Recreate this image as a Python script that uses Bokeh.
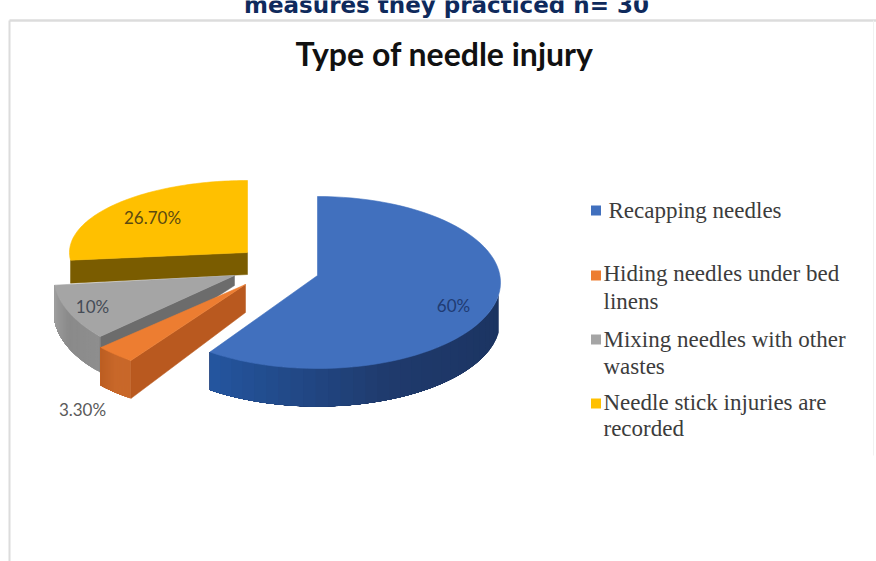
import numpy as np
from bokeh.plotting import figure
from bokeh.models import Range1d
from bokeh.core.properties import value
from bokeh.embed import file_html
from bokeh.resources import INLINE

# Pie data, clockwise from twelve o'clock
categories = ["Recapping needles", "Hiding needles under bed linens",
              "Mixing needles with other wastes", "Needle stick injuries are recorded"]
shares = [60, 3.3, 10, 26.7]
share_labels = ["60%", "3.30%", "10%", "26.70%"]
legend_lines = [["Recapping needles"],
                ["Hiding needles under bed", "linens"],
                ["Mixing needles with other", "wastes"],
                ["Needle stick injuries are", "recorded"]]
title = "Type of needle injury"
heading = "measures they practiced n= 30"

# Tilted-disc layout for each exploded slice
TOP = ["#4170be", "#ed7d31", "#a5a5a5", "#ffc000"]
RADIAL = ["#2c5aa0", "#b9591f", "#6c6c6c", "#7a5c00"]
OUTER_STOPS = [["#1b3360", "#1f3a6c", "#2456a0"],
               ["#c8682a", "#c8682a", "#bc5e22"],
               ["#8e8e8e", "#8a8a8a", "#a0a0a0"],
               ["#7a5c00", "#7a5c00", "#7a5c00"]]
LAYOUT = [
    dict(x=317, y=275, cy=282, rx=183, ry=86, depth=38, apex_depth=30),
    dict(x=245, y=284, cy=284, rx=195, ry=94, depth=38, apex_depth=28),
    dict(x=234, y=275, cy=275, rx=181, ry=91, depth=36, apex_depth=10),
    dict(x=247, y=252, cy=252, rx=178, ry=72, depth=23, apex_depth=22),
]
LABEL_POS = [(453, 305), (82, 409), (92, 306), (152, 217)]
LABEL_COL = ["#1f3b73", "#5a5a5a", "#454c57", "#5c4a10"]

p = figure(width=876, height=561, output_backend="svg", toolbar_location=None,
           x_range=Range1d(0, 876), y_range=Range1d(561, 0),
           x_axis_type=None, y_axis_type=None, min_border=0,
           outline_line_color=None, background_fill_color="white",
           border_fill_color="white")
p.grid.visible = False


def rim(cfg, a, b, n=80):
    t = np.radians(np.linspace(a, b, n))
    return cfg["x"] + cfg["rx"] * np.sin(t), cfg["cy"] - cfg["ry"] * np.cos(t)


def hex_rgb(c):
    return np.array([int(c[i:i + 2], 16) for i in (1, 3, 5)], dtype=float)


def mix(stops, f):
    pos = f * (len(stops) - 1)
    i = min(int(pos), len(stops) - 2)
    c = hex_rgb(stops[i]) * (1 - (pos - i)) + hex_rgb(stops[i + 1]) * (pos - i)
    return "#%02x%02x%02x" % tuple(int(round(v)) for v in c)


def draw_slice(i, a, b):
    cfg = LAYOUT[i]
    d, ad = cfg["depth"], cfg["apex_depth"]
    # outer wall, split into strips for the shading; each strip runs to the far
    # end of the wall so that the next one covers its seam
    lo, hi = max(a, 98), b
    if i == 3:
        lo = hi  # wall of this slice faces away
    if hi > lo:
        edges = np.linspace(lo, hi, 31)
        for k in range(30):
            xs, ys = rim(cfg, edges[k], hi, 60)
            col = mix(OUTER_STOPS[i], (k + 0.5) / 30)
            p.patch(np.r_[xs, xs[::-1]], np.r_[ys, (ys + d)[::-1]],
                    fill_color=col, line_color=None)
    # radial wall on the exposed cut
    end = a if i in (1, 2, 3) else b
    ox, oy = rim(cfg, end, end, 1)
    if i != 0:
        p.patch([cfg["x"], ox[0], ox[0], cfg["x"]],
                [cfg["y"], oy[0], oy[0] + d, cfg["y"] + ad],
                fill_color=RADIAL[i], line_color=RADIAL[i], line_width=0.5)
    # top face
    xs, ys = rim(cfg, a, b)
    p.patch(np.r_[cfg["x"], xs], np.r_[cfg["y"], ys],
            fill_color=TOP[i], line_color=TOP[i], line_width=0.6)


bounds = np.r_[0, np.cumsum(shares)] / sum(shares) * 360
for i in (3, 2, 1, 0):
    draw_slice(i, bounds[i], bounds[i + 1])

# Frame of the chart area
frame = "#dcdcdc"
p.line([9, 876], [20, 20], line_color=frame, line_width=2.5)
p.line([9, 9], [20, 561], line_color=frame, line_width=2)
p.line([873, 873], [20, 455], line_color="#f1f1f1", line_width=1)

# Heading running off the top of the page
p.text([446], [4], text=[heading], text_font=value("DejaVu Sans"),
       text_font_style="bold", text_font_size=value("23px"), text_color="#0f2a5c",
       text_align="center", text_baseline="alphabetic")

p.text([444], [53], text=[title], text_font=value("Lato"), text_font_style="bold",
       text_font_size=value("32px"), text_color="#111111",
       text_align="center", text_baseline="middle")

# Percentage labels
p.text([c[0] for c in LABEL_POS], [c[1] for c in LABEL_POS], text=share_labels,
       text_font=value("Lato"), text_font_size=value("17px"),
       text_color=LABEL_COL, text_align="center", text_baseline="middle")

# Legend
swatch_y = [210, 275, 339, 403]
text_x = [608, 603, 603, 603]
first_y = [210, 273, 339, 402]
line_gap = [0, 28, 27, 26]
p.rect([595.5] * 4, swatch_y, width=10, height=10, fill_color=TOP, line_color=None)
lx, ly, lt = [], [], []
for k, lines in enumerate(legend_lines):
    for j, line in enumerate(lines):
        lx.append(text_x[k])
        ly.append(first_y[k] + j * line_gap[k])
        lt.append(line)
p.text(lx, ly, text=lt, text_font=value("Liberation Serif"),
       text_font_size=value("23px"), text_color="#3c3c3c",
       text_align="left", text_baseline="middle")

open("out.html", "w").write(file_html(p, INLINE))
